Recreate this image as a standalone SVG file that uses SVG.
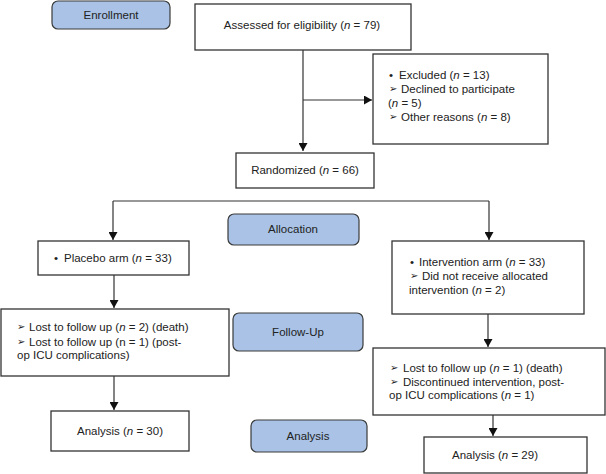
<svg xmlns="http://www.w3.org/2000/svg" width="606" height="474" viewBox="0 0 606 474">
<style>
text{font-family:"Liberation Sans",Arial,sans-serif;font-size:11.5px;fill:#222}
.c{text-anchor:middle}
.i{font-style:italic}
.ar{font-family:"DejaVu Sans",sans-serif;font-size:10px}
.box{fill:#fff;stroke:#333;stroke-width:1.3}
.stage{fill:#a9c2e6;stroke:#3a3a3a;stroke-width:1.2}
.ln{fill:none;stroke:#333;stroke-width:1.2}
</style>
<defs>
<marker id="ah" markerUnits="userSpaceOnUse" markerWidth="9" markerHeight="9" refX="8" refY="4.5" orient="auto">
<path d="M0,0 L8,4.5 L0,9 Z" fill="#111"/>
</marker>
</defs>
<g id="connectors">
<path class="ln" d="M303,50 V151" marker-end="url(#ah)"/>
<path class="ln" d="M303,100 H372" marker-end="url(#ah)"/>
<path class="ln" d="M113,201 H489"/>
<path class="ln" d="M113,201 V240" marker-end="url(#ah)"/>
<path class="ln" d="M489,201 V240" marker-end="url(#ah)"/>
<path class="ln" d="M114,275 V308" marker-end="url(#ah)"/>
<path class="ln" d="M114,376 V410" marker-end="url(#ah)"/>
<path class="ln" d="M488,314 V347" marker-end="url(#ah)"/>
<path class="ln" d="M493,415 V436" marker-end="url(#ah)"/>
</g>
<g id="enrollment">
<rect class="stage" x="52" y="1" width="118" height="28" rx="6"/>
<text class="c" x="111" y="19">Enrollment</text>
</g>
<g id="assessed">
<rect class="box" x="195" y="4" width="216" height="46"/>
<text class="c" x="302" y="29">Assessed for eligibility (<tspan class="i">n</tspan> = 79)</text>
</g>
<g id="excluded">
<rect class="box" x="373" y="54" width="175" height="90"/>
<text x="389" y="79">•</text><text x="399" y="79">Excluded (<tspan class="i">n</tspan> = 13)</text>
<text class="ar" x="389" y="92">➢</text><text x="401" y="93">Declined to participate</text>
<text x="388" y="107">(<tspan class="i">n</tspan> = 5)</text>
<text class="ar" x="389" y="120">➢</text><text x="401" y="121">Other reasons (<tspan class="i">n</tspan> = 8)</text>
</g>
<g id="randomized">
<rect class="box" x="236" y="153" width="138" height="35"/>
<text class="c" x="305" y="174">Randomized (<tspan class="i">n</tspan> = 66)</text>
</g>
<g id="allocation">
<rect class="stage" x="228" y="214" width="131" height="31" rx="6"/>
<text class="c" x="293" y="233">Allocation</text>
</g>
<g id="placebo">
<rect class="box" x="38" y="241" width="151" height="34"/>
<text x="54" y="262">•</text><text x="64" y="262">Placebo arm (<tspan class="i">n</tspan> = 33)</text>
</g>
<g id="intervention">
<rect class="box" x="392" y="241" width="192" height="73"/>
<text x="410" y="266">•</text><text x="419" y="266">Intervention arm (<tspan class="i">n</tspan> = 33)</text>
<text class="ar" x="410" y="279">➢</text><text x="422" y="280">Did not receive allocated</text>
<text x="409" y="294">intervention (<tspan class="i">n</tspan> = 2)</text>
</g>
<g id="followup-label">
<rect class="stage" x="233" y="313" width="130" height="38" rx="6"/>
<text class="c" x="298" y="336">Follow-Up</text>
</g>
<g id="followup-placebo">
<rect class="box" x="1" y="309" width="228" height="67"/>
<text class="ar" x="17" y="330">➢</text><text x="29" y="331">Lost to follow up (<tspan class="i">n</tspan> = 2) (death)</text>
<text class="ar" x="17" y="345">➢</text><text x="29" y="346">Lost to follow up (n = 1) (post-</text>
<text x="17" y="359">op ICU complications)</text>
</g>
<g id="followup-intervention">
<rect class="box" x="373" y="348" width="232" height="67"/>
<text class="ar" x="390" y="371">➢</text><text x="403" y="372">Lost to follow up (<tspan class="i">n</tspan> = 1) (death)</text>
<text class="ar" x="390" y="385">➢</text><text x="403" y="386">Discontinued intervention, post-</text>
<text x="389" y="399">op ICU complications (<tspan class="i">n</tspan> = 1)</text>
</g>
<g id="analysis-label">
<rect class="stage" x="251" y="420" width="116" height="32" rx="6"/>
<text class="c" x="308" y="440">Analysis</text>
</g>
<g id="analysis-placebo">
<rect class="box" x="51" y="411" width="138" height="40"/>
<text class="c" x="120" y="435">Analysis (<tspan class="i">n</tspan> = 30)</text>
</g>
<g id="analysis-intervention">
<rect class="box" x="424" y="437" width="163" height="36"/>
<text class="c" x="495" y="459">Analysis (<tspan class="i">n</tspan> = 29)</text>
</g>
</svg>
